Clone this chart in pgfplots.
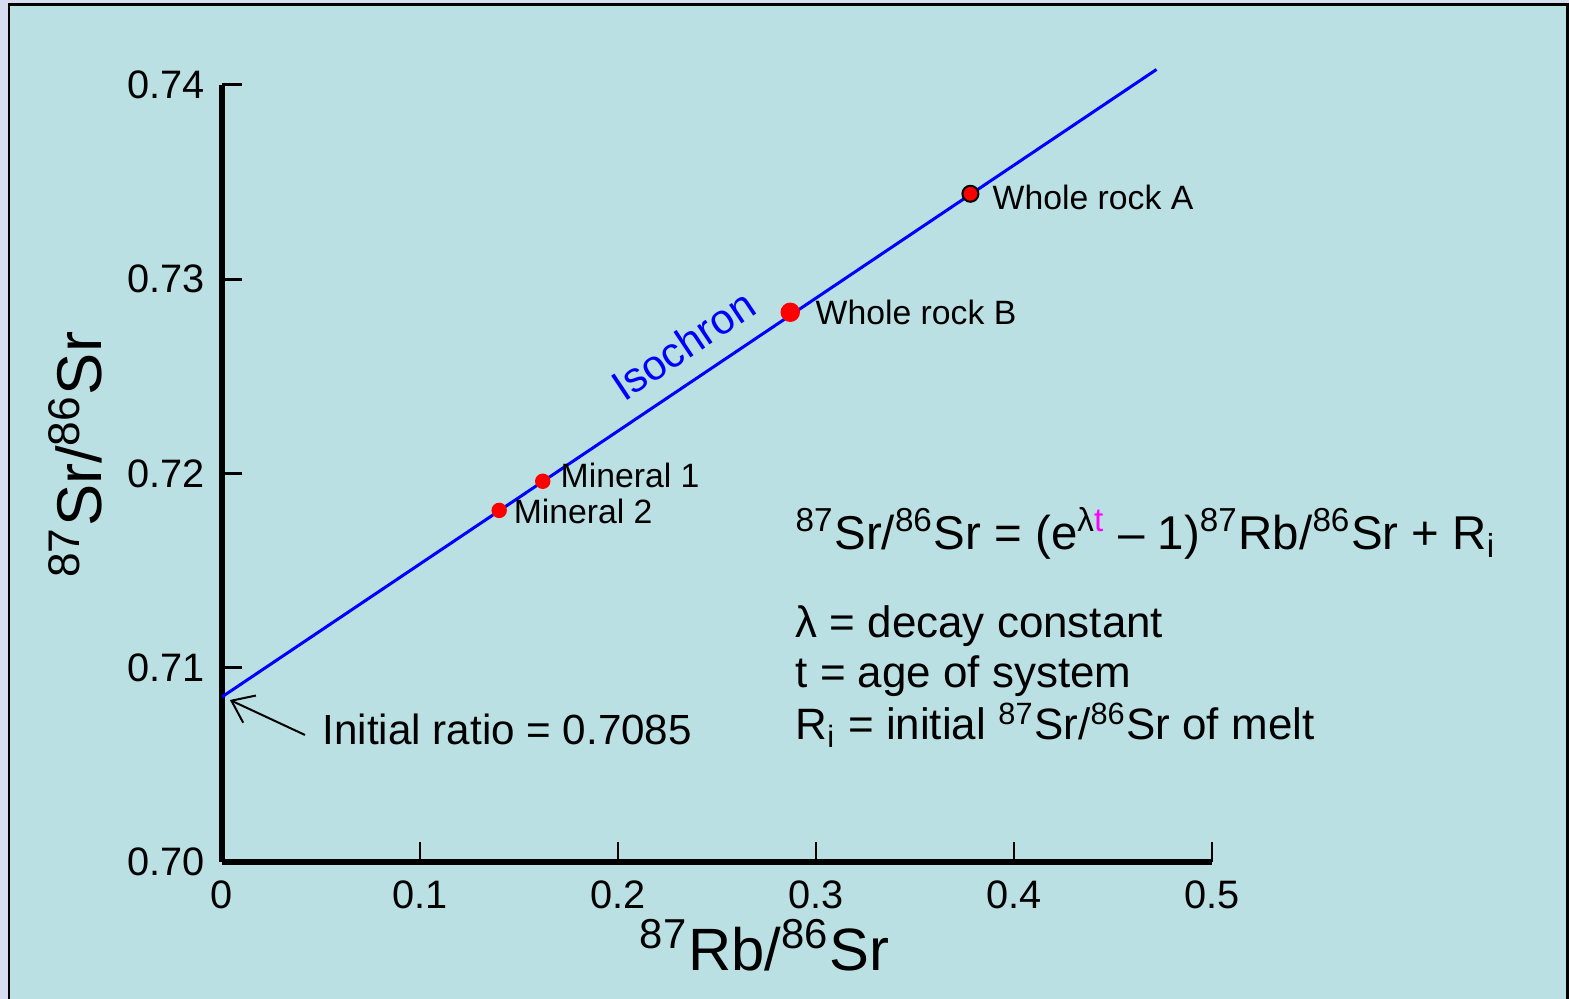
\documentclass[border=0pt]{standalone}
\usepackage{pgfplots}
\pgfplotsset{compat=1.18}
\usepackage{fontspec}
\setmainfont{Liberation Sans}
\usetikzlibrary{arrows.meta}
\definecolor{bgc}{RGB}{186,224,227}
\definecolor{lav}{RGB}{216,220,240}
\definecolor{ptred}{RGB}{255,0,0}
\definecolor{isoblue}{RGB}{0,0,255}
\definecolor{mag}{RGB}{255,0,255}
\begin{document}
\begin{tikzpicture}
\useasboundingbox (0,0) rectangle (156.9mm,99.9mm);
\fill[lav] (0,0) rectangle (156.9mm,99.9mm);
\filldraw[fill=bgc, draw=black, line width=0.3mm] (0.9mm,-2mm) rectangle (156.75mm,99.45mm);
\begin{axis}[
  at={(22.2mm,13.7mm)}, anchor=south west,
  width=99mm, height=77.7mm, scale only axis,
  xmin=0, xmax=0.5, ymin=0.70, ymax=0.74,
  axis lines=left,
  axis line style={-, line width=0.55mm, black},
  clip=false,
  xtick={0,0.1,0.2,0.3,0.4,0.5},
  xticklabels={0,0.1,0.2,0.3,0.4,0.5},
  ytick={0.70,0.71,0.72,0.73,0.74},
  yticklabels={0.70,0.71,0.72,0.73,0.74},
  /pgf/number format/assume math mode=true,
  tick align=inside,
  major tick length=2mm,
  xtick style={line width=0.15mm, black},
  ytick style={line width=0.3mm, black},
  ticklabel style={font=\fontsize{11.3}{13}\selectfont},
  xticklabel style={yshift=-0.6mm},
  yticklabel style={xshift=-0.5mm},
  xlabel={\textsuperscript{87}Rb/\textsuperscript{86}Sr},
  ylabel={\textsuperscript{87}Sr/\textsuperscript{86}Sr},
  every axis x label/.style={at={(axis description cs:0.548,-0.107)}, anchor=center, font=\fontsize{17}{20}\selectfont},
  every axis y label/.style={at={(axis description cs:-0.148,0.524)}, anchor=center, rotate=90, font=\fontsize{18}{21}\selectfont},
]
% isochron line
\addplot[isoblue, line width=0.3mm] coordinates {(0,0.7085) (0.472,0.7408)};
% whole rock A (outlined)
\addplot[only marks, mark=*, mark size=0.8mm, mark options={fill=ptred, draw=black, line width=0.2mm}]
  coordinates {(0.378,0.7344)};
% whole rock B
\addplot[only marks, mark=*, mark size=0.9mm, mark options={fill=ptred, draw=ptred}]
  coordinates {(0.287,0.7283)};
% minerals
\addplot[only marks, mark=*, mark size=0.7mm, mark options={fill=ptred, draw=ptred}]
  coordinates {(0.162,0.7196) (0.140,0.7181)};

\node[anchor=west, inner sep=0pt, font=\fontsize{9.6}{12}\selectfont] at (axis cs:0.3889,0.7342) {Whole rock A};
\node[anchor=west, inner sep=0pt, font=\fontsize{9.6}{12}\selectfont] at (axis cs:0.2995,0.7283) {Whole rock B};
\node[anchor=west, inner sep=0pt, font=\fontsize{9.6}{12}\selectfont] at (axis cs:0.1707,0.7199) {Mineral 1};
\node[anchor=west, inner sep=0pt, font=\fontsize{9.6}{12}\selectfont] at (axis cs:0.147,0.71807) {Mineral 2};
\node[rotate=33.7, inner sep=0pt, text=isoblue, font=\fontsize{12}{14}\selectfont] at (axis cs:0.2328,0.72662) {Isochron};
\draw[line width=0.2mm, -{Straight Barb[length=2mm, width=3mm]}] (axis cs:0.0419,0.70654) -- (axis cs:0.004,0.70834);
\node[anchor=west, inner sep=0pt, font=\fontsize{12}{15}\selectfont] at (axis cs:0.0505,0.7068) {Initial ratio = 0.7085};
\end{axis}
\node[anchor=base west, inner sep=0pt, font=\fontsize{13.5}{16}\selectfont] at (79.5mm,44.9mm)
  {\textsuperscript{87}Sr/\textsuperscript{86}Sr = (e\textsuperscript{λ\textcolor{mag}{t}} – 1)\textsuperscript{87}Rb/\textsuperscript{86}Sr + R\textsubscript{i}};
\node[anchor=base west, inner sep=0pt, font=\fontsize{12.5}{16}\selectfont] at (79.5mm,36.1mm) {λ = decay constant};
\node[anchor=base west, inner sep=0pt, font=\fontsize{12.5}{16}\selectfont] at (79.5mm,31.1mm) {t = age of system};
\node[anchor=base west, inner sep=0pt, font=\fontsize{12.5}{16}\selectfont] at (79.5mm,25.9mm) {R\textsubscript{i} = initial \textsuperscript{87}Sr/\textsuperscript{86}Sr of melt};
\end{tikzpicture}
\end{document}
